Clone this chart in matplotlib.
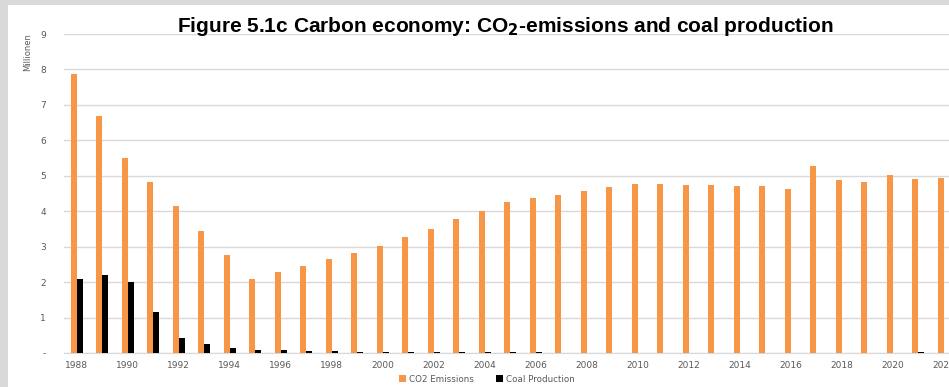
import matplotlib.pyplot as plt
import matplotlib.patches as mpatches
import numpy as np

years = list(range(1988, 2023))
co2_emissions = [7.88, 6.69, 5.51, 4.83, 4.15, 3.45, 2.77, 2.08, 2.28, 2.46,
                 2.65, 2.83, 3.02, 3.27, 3.50, 3.77, 4.00, 4.25, 4.37, 4.47,
                 4.57, 4.68, 4.78, 4.77, 4.75, 4.73, 4.71, 4.70, 4.62, 5.28,
                 4.89, 4.82, 5.02, 4.91, 4.94]
coal_production = [2.10, 2.19, 2.01, 1.15, 0.43, 0.25, 0.13, 0.08, 0.08, 0.05,
                   0.05, 0.03, 0.03, 0.02, 0.02, 0.02, 0.02, 0.02, 0.02, 0.01,
                   0.01, 0.01, 0.0, 0.0, 0.0, 0.0, 0.0, 0.0, 0.01, 0.0,
                   0.005, 0.01, 0.005, 0.03, 0.0]
y_ticks = list(range(0, 10))
y_tick_labels = ["-"] + [str(v) for v in range(1, 10)]

ORANGE = "#f79646"
GREY_TXT = "#595959"

fig = plt.figure(figsize=(9.49, 3.87), dpi=100, facecolor="#d9d9d9")
# white chart panel on the grey page
fig.patches.append(mpatches.Rectangle((8 / 949, 0), 1, 1 - 5 / 387,
                                      transform=fig.transFigure,
                                      facecolor="white", edgecolor="none", zorder=-10))

ax = fig.add_axes([64 / 949, 34 / 387, 892.5 / 949, 319 / 387])
ax.set_facecolor("none")

x = np.arange(len(years))
w = 0.235
ax.bar(x - w / 2, co2_emissions, width=w, color=ORANGE, label="CO2 Emissions", zorder=3)
ax.bar(x + w / 2, coal_production, width=w, color="black", label="Coal Production", zorder=3)

ax.set_xlim(-0.5, len(years) - 0.5)
ax.set_ylim(0, 9)
ax.set_yticks(y_ticks)
ax.set_yticklabels(y_tick_labels)
ax.yaxis.grid(True, color="#d9d9d9", linewidth=1, zorder=0)
ax.set_axisbelow(True)

ax.set_xticks(x[::2])
ax.set_xticklabels([str(y) for y in years[::2]])
ax.tick_params(axis="both", length=0, labelsize=6.5, labelcolor=GREY_TXT)
ax.tick_params(axis="x", pad=6)
ax.tick_params(axis="y", pad=13)

for s in ["top", "right", "left"]:
    ax.spines[s].set_visible(False)
ax.spines["bottom"].set_color("#d9d9d9")

fig.text(28 / 949, 1 - 52 / 387, "Millionen", rotation=90, fontsize=6,
         color=GREY_TXT, ha="center", va="center")

fig.text(505 / 949, 1 - 27 / 387,
         "Figure 5.1c Carbon economy: CO$_\\mathbf{2}$-emissions and coal production",
         fontsize=15, fontweight="bold", family="Liberation Sans",
         ha="center", va="center")

fig.legend(loc="center", bbox_to_anchor=(487 / 949, 1 - 379 / 387), ncol=2,
           frameon=False, fontsize=6.3, labelcolor=GREY_TXT, handlelength=0.8,
           handleheight=0.8, handletextpad=0.4, columnspacing=2.5)

fig.savefig("out.png", dpi=100, facecolor=fig.get_facecolor())
